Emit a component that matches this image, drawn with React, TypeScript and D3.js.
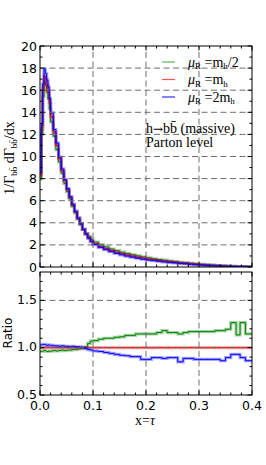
import * as d3 from 'd3';

// bin edges of the histograms (x = tau)
const binEdges = [
  0, 0.0025, 0.005, 0.0075, 0.01, 0.0125, 0.015, 0.0175, 0.02,
  0.025, 0.03, 0.035, 0.04, 0.045, 0.05, 0.055, 0.06, 0.065, 0.07, 0.075, 0.08, 0.085, 0.09, 0.095, 0.1,
  0.11, 0.12, 0.13, 0.14, 0.15, 0.16, 0.17, 0.18, 0.19, 0.2,
  0.21, 0.22, 0.23, 0.24, 0.25, 0.26, 0.27, 0.28, 0.29, 0.3,
  0.31, 0.32, 0.33, 0.34, 0.35, 0.36, 0.37, 0.3775, 0.3875, 0.4,
];

// mu_R = m_h (central) distribution
const centralValues = [
  8.3, 12.5, 16.0, 17.3, 17.0, 16.5, 15.8, 14.9,
  13.6, 12.2, 11.0, 9.8, 8.7, 7.8, 7.0, 6.3, 5.6, 5.0, 4.4, 3.9, 3.4, 3.0, 2.65, 2.35,
  2.1, 1.85, 1.65, 1.48, 1.33, 1.2, 1.08, 0.98, 0.88, 0.8,
  0.72, 0.65, 0.58, 0.52, 0.47, 0.42, 0.37, 0.33, 0.28, 0.24,
  0.2, 0.17, 0.14, 0.11, 0.09, 0.07, 0.05, 0.04, 0.03, 0.02,
];

// ratio mu_R = m_h/2 over central
const halfRatio = [
  0.96, 0.96, 0.965, 0.97, 0.965, 0.96, 0.965, 0.96,
  0.965, 0.97, 0.965, 0.97, 0.975, 0.97, 0.975, 0.975, 0.98, 0.98, 0.985, 0.99, 1.0, 1.005, 1.046, 1.07,
  1.075, 1.09, 1.1, 1.1, 1.11, 1.115, 1.13, 1.13, 1.145, 1.145,
  1.145, 1.145, 1.16, 1.18, 1.16, 1.16, 1.145, 1.16, 1.17, 1.17,
  1.17, 1.17, 1.17, 1.18, 1.18, 1.195, 1.265, 1.135, 1.265, 1.145,
];

// ratio mu_R = 2 m_h over central
const doubleRatio = [
  1.03, 1.03, 1.035, 1.035, 1.03, 1.025, 1.03, 1.025,
  1.025, 1.02, 1.02, 1.015, 1.02, 1.015, 1.015, 1.01, 1.015, 1.01, 1.01, 1.005, 1.0, 0.99, 0.98, 0.975,
  0.965, 0.96, 0.95, 0.94, 0.93, 0.92, 0.915, 0.905, 0.905, 0.877,
  0.877, 0.895, 0.895, 0.887, 0.895, 0.895, 0.85, 0.887, 0.887, 0.877,
  0.877, 0.877, 0.877, 0.877, 0.862, 0.895, 0.93, 0.93, 0.895, 0.862,
];

const xMajor = [0, 0.1, 0.2, 0.3, 0.4];
const xTickLabels = ['0.0', '0.1', '0.2', '0.3', '0.4'];
const topMajor = [0, 2, 4, 6, 8, 10, 12, 14, 16, 18, 20];
const ratioMajor = [0.5, 1.0, 1.5];
const ratioTickLabels = ['0.5', '1.0', '1.5'];

const L = 40, R = 252;
const x = d3.scaleLinear().domain([0, 0.4]).range([L, R]);
const yTop = d3.scaleLinear().domain([0, 20]).range([267, 46]);
const yRat = d3.scaleLinear().domain([0.5, 1.8]).range([395, 272]);

const GREEN = '#008000', RED = '#ff0000', BLUE = '#0000ff';
const GRID = '#6e6e6e';
const SANS = 'DejaVu Sans, sans-serif';
const SERIF = 'Liberation Serif, serif';

const stepPath = (vals: number[], y: d3.ScaleLinear<number, number>) => {
  const pts: [number, number][] = vals.map((v, i) => [binEdges[i], v]);
  pts.push([binEdges[binEdges.length - 1], vals[vals.length - 1]]);
  return d3.line<[number, number]>()
    .x(d => x(d[0]))
    .y(d => y(d[1]))
    .curve(d3.curveStepAfter)(pts) || '';
};

const Series = ({ d, color }: { d: string; color: string }) => (
  <g>
    <path d={d} fill="none" stroke={color} strokeWidth={3.2} strokeOpacity={0.35} />
    <path d={d} fill="none" stroke={color} strokeWidth={1} />
  </g>
);

const Frame = ({ y, major, minor }: { y: d3.ScaleLinear<number, number>; major: number[]; minor: number[] }) => {
  const [y0, y1] = y.range();
  const xMinor = d3.range(0, 0.4001, 0.02).filter(v => !xMajor.some(m => Math.abs(m - v) < 1e-6));
  return (
    <g stroke="#000" strokeWidth={1}>
      {xMajor.map(v => (
        <g key={'xm' + v}>
          <line x1={x(v)} x2={x(v)} y1={y0} y2={y0 - 4.5} />
          <line x1={x(v)} x2={x(v)} y1={y1} y2={y1 + 4.5} />
        </g>
      ))}
      {xMinor.map(v => (
        <g key={'xn' + v}>
          <line x1={x(v)} x2={x(v)} y1={y0} y2={y0 - 2.5} />
          <line x1={x(v)} x2={x(v)} y1={y1} y2={y1 + 2.5} />
        </g>
      ))}
      {major.map(v => (
        <g key={'ym' + v}>
          <line x1={L} x2={L + 4.5} y1={y(v)} y2={y(v)} />
          <line x1={R} x2={R - 4.5} y1={y(v)} y2={y(v)} />
        </g>
      ))}
      {minor.map(v => (
        <g key={'yn' + v}>
          <line x1={L} x2={L + 2.5} y1={y(v)} y2={y(v)} />
          <line x1={R} x2={R - 2.5} y1={y(v)} y2={y(v)} />
        </g>
      ))}
      <rect x={L} y={y1} width={R - L} height={y0 - y1} fill="none" />
    </g>
  );
};

const Grid = ({ y, vals }: { y: d3.ScaleLinear<number, number>; vals: number[] }) => {
  const [y0, y1] = y.range();
  return (
    <g stroke={GRID} strokeWidth={1} strokeDasharray="6,3.5">
      {[0.1, 0.2, 0.3].map(v => (
        <line key={'gx' + v} x1={x(v)} x2={x(v)} y1={y0} y2={y1} />
      ))}
      {vals.map(v => (
        <line key={'gy' + v} x1={L} x2={R} y1={y(v)} y2={y(v)} />
      ))}
    </g>
  );
};

const legend = [
  { color: '#5cb85c', label: '/2', mult: '' },
  { color: '#ff5050', label: '', mult: '' },
  { color: '#3030ff', label: '', mult: '2' },
];

export default function App() {
  const greenTop = centralValues.map((v, i) => v * halfRatio[i]);
  const blueTop = centralValues.map((v, i) => v * doubleRatio[i]);
  const redRatio = centralValues.map(v => v / v);

  return (
    <svg width={266} height={465} style={{ position: 'absolute', left: 0, top: 0, background: '#fff' }}>
      <defs>
        <clipPath id="clipTop"><rect x={L} y={46} width={R - L} height={221} /></clipPath>
        <clipPath id="clipRat"><rect x={L} y={272} width={R - L} height={123} /></clipPath>
      </defs>

      {/* top panel */}
      <g clipPath="url(#clipTop)">
        <Series d={stepPath(greenTop, yTop)} color={GREEN} />
        <Series d={stepPath(centralValues, yTop)} color={RED} />
        <Series d={stepPath(blueTop, yTop)} color={BLUE} />
      </g>
      <Grid y={yTop} vals={[2, 4, 6, 8, 10, 12, 14, 16, 18]} />
      <Frame y={yTop} major={topMajor} minor={d3.range(1, 20, 2)} />
      <g fontFamily={SANS} fontSize={12.5} textAnchor="end">
        {topMajor.map(v => (
          <text key={v} x={37} y={yTop(v) + 4.5}>{v}</text>
        ))}
      </g>
      <text transform="translate(13.5,158) rotate(-90)" fontFamily={SERIF} fontSize={14} textAnchor="middle">
        1/Γ<tspan fontSize={9} dy={3}>bb̄</tspan><tspan dy={-3}> dΓ</tspan><tspan fontSize={9} dy={3}>bb̄</tspan><tspan dy={-3}>/dx</tspan>
      </text>

      {/* legend */}
      {legend.map((e, i) => {
        const ly = 62 + i * 17.5;
        return (
          <g key={i}>
            <line x1={162} x2={175} y1={ly} y2={ly} stroke={e.color} strokeWidth={1.2} />
            <text x={188} y={ly + 4.5} fontFamily={SERIF} fontSize={14}>
              <tspan fontStyle="italic">μ</tspan>
              <tspan fontSize={9} dy={2.5}>R</tspan>
              <tspan dy={-2.5}> ={e.mult}m</tspan>
              <tspan fontSize={9} dy={2.5}>h</tspan>
              <tspan dy={-2.5}>{e.label}</tspan>
            </text>
          </g>
        );
      })}
      <text x={146} y={133} fontFamily={SERIF} fontSize={14}>
        h<tspan fontFamily="DejaVu Serif, serif" fontSize={12}>→</tspan>bb̄ (massive)
      </text>
      <text x={146} y={146.5} fontFamily={SERIF} fontSize={14}>Parton level</text>

      {/* ratio panel */}
      <g clipPath="url(#clipRat)">
        <Series d={stepPath(halfRatio, yRat)} color={GREEN} />
        <Series d={stepPath(redRatio, yRat)} color={RED} />
        <Series d={stepPath(doubleRatio, yRat)} color={BLUE} />
      </g>
      <Grid y={yRat} vals={[1.0, 1.5]} />
      <Frame y={yRat} major={ratioMajor} minor={d3.range(0.6, 1.79, 0.1).filter(v => Math.abs(v - 1) > 1e-6 && Math.abs(v - 1.5) > 1e-6)} />
      <g fontFamily={SANS} fontSize={12.5} textAnchor="end">
        {ratioMajor.map((v, i) => (
          <text key={v} x={37} y={yRat(v) + 3.5}>{ratioTickLabels[i]}</text>
        ))}
      </g>
      <g fontFamily={SANS} fontSize={12.5} textAnchor="middle">
        {xMajor.map((v, i) => (
          <text key={v} x={x(v)} y={410}>{xTickLabels[i]}</text>
        ))}
      </g>
      <text transform="translate(12,333) rotate(-90)" fontFamily={SANS} fontSize={12} textAnchor="middle">Ratio</text>
      <text x={145} y={425} fontFamily={SERIF} fontSize={14} textAnchor="middle">x=<tspan fontStyle="italic">τ</tspan></text>
    </svg>
  );
}
